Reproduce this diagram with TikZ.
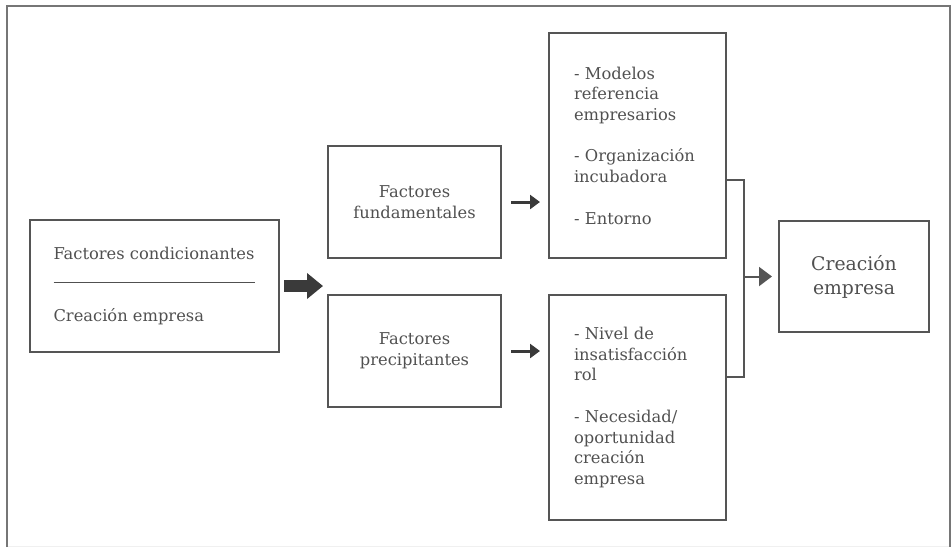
\documentclass[tikz,border=0pt]{standalone}
\usepackage{fontspec}
\setmainfont{DejaVu Serif}
\usetikzlibrary{positioning,calc,arrows.meta}
\definecolor{boxgray}{HTML}{555555}
\definecolor{textgray}{HTML}{505050}
\definecolor{arrowgray}{HTML}{3A3A3A}
\definecolor{framegray}{HTML}{767676}

\begin{document}
\begin{tikzpicture}[x=1pt,y=-1pt,
					every node/.style={text=textgray,font=\fontsize{16.3}{20.7}\selectfont},
					factor box/.style={draw=boxgray,line width=2pt,inner sep=0pt,
						minimum width=173pt,minimum height=112pt,align=center},
					list box/.style={draw=boxgray,line width=2pt,inner sep=0pt,
						minimum width=177pt,minimum height=225pt,text width=127pt,align=left},
					big arrow/.style={arrowgray,line width=12pt,shorten <=4pt,shorten >=4pt,
						-{Triangle[length=16pt,width=25pt]}},
					small arrow/.style={arrowgray,line width=3pt,shorten <=9pt,shorten >=8pt,
						-{Triangle[length=10pt,width=14pt]}},
					join line/.style={boxgray,line width=2pt}]

  \useasboundingbox (0,0) rectangle (951,547);
  % outer frame
  \draw[gray!12,line width=1pt] (7,546) -- (950,546);
  \draw[framegray,line width=2.5pt] (7,547) -- (7,6) -- (950,6) -- (950,547);

  \node[draw=boxgray,line width=2pt,inner sep=0pt,minimum width=249pt,
        minimum height=132pt,align=left] (cond) at (154.5,286)
        {Factores condicionantes\\ \rule[-2pt]{202pt}{0.6pt}\\[20.7pt] Creación empresa};
  \node[factor box] (fund) [right=47pt of cond,yshift=84pt] {Factores\\ fundamentales};
  \node[factor box] (prec) [below=35pt of fund] {Factores\\ precipitantes};
  \node[list box] (mod) [right=46pt of fund.south east,anchor=south west]
        {- Modelos\\ referencia\\ empresarios\\[20.7pt] - Organización\\ incubadora\\[20.7pt] - Entorno};
  \node[list box] (nec) [right=46pt of prec.north east,anchor=north west]
        {- Nivel de\\ insatisfacción\\ rol\\[20.7pt] - Necesidad/\\ oportunidad\\ creación\\ empresa};
  \coordinate (join) at ($(mod.east)!0.5!(nec.east)+(17,0)$);
  \node[draw=boxgray,line width=2pt,inner sep=0pt,minimum width=150pt,minimum height=111pt,
        align=center,font=\fontsize{18.8}{24}\selectfont] (emp) [right=34pt of join]
        {Creación\\ empresa};

  \draw[big arrow] (cond.east) -- (cond.east -| fund.west);
  \draw[small arrow] (fund.east) -- (fund.east -| mod.west);
  \draw[small arrow] (prec.east) -- (prec.east -| nec.west);
  \draw[join line] ([yshift=-34.5pt]mod.east) -| (join) |- ([yshift=30.5pt]nec.east);
  \draw[join line,-{Triangle[length=13pt,width=19pt]},shorten >=6pt] (join) -- (emp.west);
\end{tikzpicture}
\end{document}
